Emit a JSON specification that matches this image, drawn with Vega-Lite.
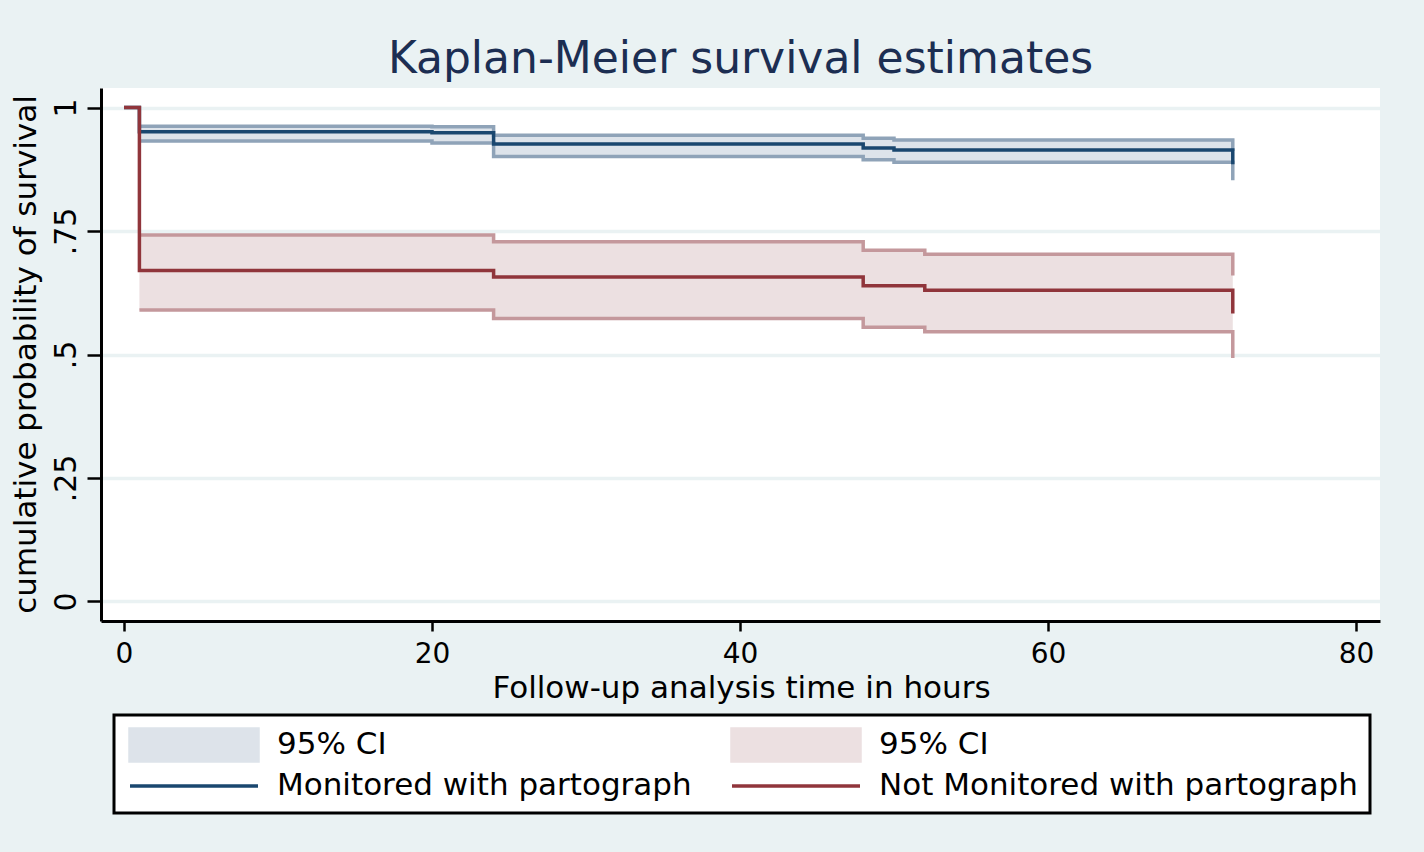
{
  "$schema": "https://vega.github.io/schema/vega-lite/v6.json",
  "autosize": {"type": "none"},
  "width": 1279,
  "height": 533,
  "padding": {"left": 101, "top": 88, "right": 44, "bottom": 231},
  "background": "#eaf2f3",
  "config": {
    "view": {"fill": "white", "stroke": null},
    "font": "DejaVu Sans",
    "axis": {"labelFont": "DejaVu Sans", "titleFont": "DejaVu Sans"}
  },
  "title": {
    "text": "Kaplan-Meier survival estimates",
    "fontSize": 44,
    "font": "DejaVu Sans",
    "fontWeight": "normal",
    "color": "#1c2e52",
    "anchor": "middle",
    "frame": "group",
    "baseline": "alphabetic",
    "offset": 13,
    "dy": 42
  },
  "data": {
    "values": [
      {"g": "m", "t": 0, "s": 1, "lo": null, "hi": null},
      {"g": "m", "t": 1, "s": 0.951, "lo": 0.932, "hi": 0.962},
      {"g": "m", "t": 20, "s": 0.949, "lo": 0.928, "hi": 0.961},
      {"g": "m", "t": 24, "s": 0.926, "lo": 0.901, "hi": 0.944},
      {"g": "m", "t": 48, "s": 0.918, "lo": 0.894, "hi": 0.938},
      {"g": "m", "t": 50, "s": 0.914, "lo": 0.889, "hi": 0.934},
      {"g": "m", "t": 72, "s": 0.885, "lo": 0.853, "hi": 0.912},
      {"g": "n", "t": 0, "s": 1, "lo": null, "hi": null},
      {"g": "n", "t": 1, "s": 0.670, "lo": 0.590, "hi": 0.742},
      {"g": "n", "t": 24, "s": 0.657, "lo": 0.573, "hi": 0.728},
      {"g": "n", "t": 48, "s": 0.639, "lo": 0.555, "hi": 0.711},
      {"g": "n", "t": 52, "s": 0.630, "lo": 0.546, "hi": 0.703},
      {"g": "n", "t": 72, "s": 0.583, "lo": 0.493, "hi": 0.660}
    ]
  },
  "encoding": {
    "x": {
      "field": "t",
      "type": "quantitative",
      "scale": {"domain": [-1.494, 81.56], "nice": false, "zero": false},
      "axis": {
        "values": [0, 20, 40, 60, 80],
        "labelFontSize": 28,
        "labelColor": "black",
        "labelPadding": 9,
        "labelFlush": false,
        "tickSize": 10,
        "tickWidth": 2.5,
        "tickColor": "black",
        "domainColor": "black",
        "domainWidth": 3,
        "grid": false,
        "title": "Follow-up analysis time in hours",
        "titleFontSize": 31,
        "titleFontWeight": "normal",
        "titleColor": "black",
        "titleBaseline": "alphabetic",
        "titleY": 76,
        "titleX": 640
      }
    }
  },
  "layer": [
    {
      "transform": [{"filter": "datum.g == 'm'"}],
      "mark": {"type": "area", "interpolate": "step-after"},
      "encoding": {
        "y": {"field": "lo", "type": "quantitative", "title": "cumulative probability of survival",
          "scale": {"domain": [-0.0395, 1.0395], "nice": false, "zero": false},
          "axis": {"values": [0, 0.25, 0.5, 0.75, 1], "labelExpr": "datum.value == 0 ? '0' : datum.value == 1 ? '1' : datum.value == 0.25 ? '.25' : datum.value == 0.5 ? '.5' : '.75'", "labelAngle": 270, "labelAlign": "center", "labelBaseline": "alphabetic", "labelPadding": 12, "labelFontSize": 30, "labelColor": "black", "labelFlush": false, "labelOverlap": false, "tickSize": 14, "tickWidth": 2.5, "tickColor": "black", "domainColor": "black", "domainWidth": 3, "grid": true, "gridColor": "#eaf2f3", "gridWidth": 3.5, "titleFontSize": 31, "titleFontWeight": "normal", "titleColor": "black", "titleAngle": 270, "titleBaseline": "alphabetic", "titleAlign": "center", "titleX": -66, "titleY": 266}
        },
        "y2": {"field": "hi"},
        "color": {
          "datum": "ci_m",
          "type": "nominal",
          "scale": {"domain": ["ci_m", "line_m", "ci_n", "line_n"], "range": ["#dde3ea", "#1a476f", "#ece0e1", "#90353b"]},
          "legend": {
            "orient": "none",
            "legendX": 13,
            "legendY": 627,
            "columns": 2,
            "title": null,
            "padding": 12,
            "fillColor": "white",
            "strokeColor": "black",
            "labelFontSize": 31,
            "labelFont": "DejaVu Sans",
            "labelColor": "black",
            "labelLimit": 0,
            "labelOffset": 65,
            "symbolOffset": 50,
            "symbolSize": 1024,
            "rowPadding": -4.5,
            "columnPadding": 33,
            "labelExpr": "datum.value == 'line_m' ? 'Monitored with partograph' : datum.value == 'line_n' ? 'Not Monitored with partograph' : '95% CI'",
            "encode": {
              "legend": {"update": {"strokeWidth": {"value": 3}}},
              "symbols": {
                "update": {
                  "shape": {"signal": "indexof(datum.value, 'ci') == 0 ? 'M-4,-1H4V1H-4Z' : 'M-4,0H4'"},
                  "fill": {"signal": "datum.value == 'ci_m' ? '#dde3ea' : datum.value == 'ci_n' ? '#ece0e1' : 'transparent'"},
                  "stroke": {"signal": "datum.value == 'line_m' ? '#1a476f' : datum.value == 'line_n' ? '#90353b' : 'transparent'"},
                  "strokeWidth": {"value": 3.5},
                  "opacity": {"value": 1},
                  "fillOpacity": {"value": 1},
                  "strokeOpacity": {"value": 1}
                }
              }
            }
          }
        }
      }
    },
    {
      "transform": [{"filter": "datum.g == 'n'"}],
      "mark": {"type": "area", "interpolate": "step-after"},
      "encoding": {
        "y": {"field": "lo", "type": "quantitative", "title": "cumulative probability of survival",
          "scale": {"domain": [-0.0395, 1.0395], "nice": false, "zero": false}},
        "y2": {"field": "hi"},
        "color": {"datum": "ci_n", "type": "nominal"}
      }
    },
    {
      "transform": [{"filter": "datum.g == 'm'"}],
      "mark": {"type": "line", "interpolate": "step-after", "strokeWidth": 3.5, "color": "#8fa3b8"},
      "encoding": {"y": {"field": "lo", "type": "quantitative", "title": "cumulative probability of survival"}}
    },
    {
      "transform": [{"filter": "datum.g == 'm'"}],
      "mark": {"type": "line", "interpolate": "step-after", "strokeWidth": 3.5, "color": "#8fa3b8"},
      "encoding": {"y": {"field": "hi", "type": "quantitative", "title": "cumulative probability of survival"}}
    },
    {
      "transform": [{"filter": "datum.g == 'n'"}],
      "mark": {"type": "line", "interpolate": "step-after", "strokeWidth": 3.5, "color": "#c4989c"},
      "encoding": {"y": {"field": "lo", "type": "quantitative", "title": "cumulative probability of survival"}}
    },
    {
      "transform": [{"filter": "datum.g == 'n'"}],
      "mark": {"type": "line", "interpolate": "step-after", "strokeWidth": 3.5, "color": "#c4989c"},
      "encoding": {"y": {"field": "hi", "type": "quantitative", "title": "cumulative probability of survival"}}
    },
    {
      "transform": [{"filter": "datum.g == 'm'"}],
      "mark": {"type": "line", "interpolate": "step-after", "strokeWidth": 3.5},
      "encoding": {
        "y": {"field": "s", "type": "quantitative", "title": "cumulative probability of survival"},
        "color": {"datum": "line_m", "type": "nominal"}
      }
    },
    {
      "transform": [{"filter": "datum.g == 'n'"}],
      "mark": {"type": "line", "interpolate": "step-after", "strokeWidth": 3.5},
      "encoding": {
        "y": {"field": "s", "type": "quantitative", "title": "cumulative probability of survival"},
        "color": {"datum": "line_n", "type": "nominal"}
      }
    }
  ]
}
